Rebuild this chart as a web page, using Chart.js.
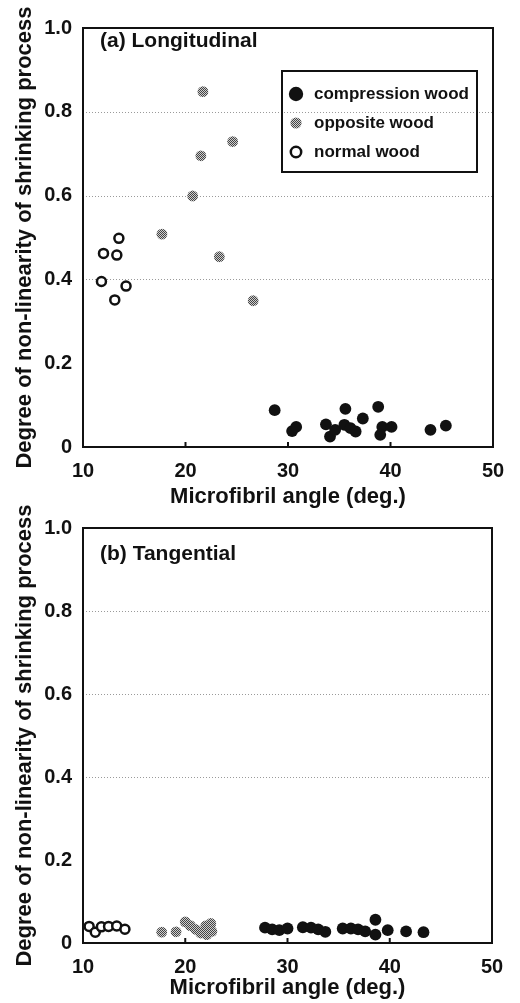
<!DOCTYPE html>
<html>
<head>
<meta charset="utf-8">
<script src="https://cdn.jsdelivr.net/npm/chart.js@4.4.1/dist/chart.umd.min.js"></script>
<style>
  html, body { margin: 0; padding: 0; background: #ffffff; }
  body { width: 520px; height: 1003px; position: relative; overflow: hidden; }
  .panel { position: absolute; left: 0; width: 520px; }
  #p1 { top: 0; height: 512px; }
  #p2 { top: 500px; height: 503px; }
</style>
</head>
<body>
<div class="panel" id="p1"><canvas id="c1" width="520" height="512"></canvas></div>
<div class="panel" id="p2"><canvas id="c2" width="520" height="503"></canvas></div>
<script>
// ---------------- data ----------------
const seriesLabels = ['compression wood', 'opposite wood', 'normal wood'];
const xTickValues = [10, 20, 30, 40, 50];
const xTickLabels = ['10', '20', '30', '40', '50'];
const yTickValues = [0, 0.2, 0.4, 0.6, 0.8, 1.0];
const yTickLabels = ['0', '0.2', '0.4', '0.6', '0.8', '1.0'];
const yGridValues = [0.4, 0.6, 0.8];
const xTickMarkValues = [20, 30, 40];
const xTitle = 'Microfibril angle (deg.)';
const yTitle = 'Degree of non-linearity of shrinking process';
const panelTitles = ['(a) Longitudinal', '(b) Tangential'];

// (a) Longitudinal
const longCompressionAngle  = [28.7, 30.4, 30.8, 33.7, 34.1, 34.6, 35.6, 35.5, 36.1, 36.6, 37.3, 38.8, 39.2, 39.0, 40.1, 43.9, 45.4];
const longCompressionDegree = [0.088, 0.038, 0.048, 0.054, 0.025, 0.041, 0.091, 0.053, 0.045, 0.037, 0.068, 0.096, 0.048, 0.029, 0.048, 0.041, 0.051];
const longOppositeAngle  = [21.7, 24.6, 21.5, 20.7, 17.7, 23.3, 26.6];
const longOppositeDegree = [0.848, 0.729, 0.695, 0.599, 0.508, 0.454, 0.349];
const longNormalAngle  = [12.0, 13.3, 13.5, 11.8, 13.1, 14.2];
const longNormalDegree = [0.462, 0.458, 0.498, 0.395, 0.351, 0.384];

// (b) Tangential
const tanCompressionAngle  = [27.8, 28.5, 29.2, 30.0, 31.5, 32.3, 33.0, 33.7, 35.4, 36.2, 36.9, 37.6, 38.6, 38.6, 39.8, 41.6, 43.3];
const tanCompressionDegree = [0.037, 0.033, 0.031, 0.035, 0.038, 0.037, 0.033, 0.027, 0.035, 0.035, 0.033, 0.028, 0.056, 0.020, 0.031, 0.028, 0.026];
const tanOppositeAngle  = [17.7, 19.1, 20.0, 20.5, 21.0, 21.5, 22.0, 22.5, 22.6, 22.1];
const tanOppositeDegree = [0.026, 0.027, 0.051, 0.042, 0.033, 0.024, 0.041, 0.047, 0.028, 0.020];
const tanNormalAngle  = [10.6, 11.2, 11.8, 12.5, 13.3, 14.1];
const tanNormalDegree = [0.040, 0.026, 0.039, 0.040, 0.041, 0.033];

// ---------------- styling ----------------
const FONT = '"Liberation Sans", Arial, Helvetica, sans-serif';
const INK = '#111111';

function makeStipple() {
  const c = document.createElement('canvas');
  c.width = 2; c.height = 2;
  const g = c.getContext('2d');
  g.fillStyle = '#cfcfcf';
  g.fillRect(0, 0, 2, 2);
  g.fillStyle = '#444444';
  g.fillRect(0, 0, 1, 1);
  g.fillRect(1, 1, 1, 1);
  return g.createPattern(c, 'repeat');
}
const stipple = makeStipple();

function pts(xs, ys) { return xs.map((x, i) => ({ x: x, y: ys[i] })); }

function datasets(cx, cy, ox, oy, nx, ny) {
  return [
    { label: seriesLabels[0], data: pts(cx, cy), pointRadius: 5.9, pointBackgroundColor: INK, pointBorderColor: INK, pointBorderWidth: 0, order: 1 },
    { label: seriesLabels[1], data: pts(ox, oy), pointRadius: 5.4, pointBackgroundColor: stipple, pointBorderColor: 'rgba(0,0,0,0)', pointBorderWidth: 0, order: 2 },
    { label: seriesLabels[2], data: pts(nx, ny), pointRadius: 4.5, pointBackgroundColor: '#ffffff', pointBorderColor: INK, pointBorderWidth: 2.5, order: 3 }
  ];
}

const framePlugin = {
  id: 'frame',
  beforeDatasetsDraw(chart) {
    const { ctx, chartArea: a, scales } = chart;
    const ys = scales.y;
    ctx.save();
    ctx.strokeStyle = '#9a9a9a';
    ctx.lineWidth = 1;
    ctx.setLineDash([1, 2]);
    yGridValues.forEach(v => {
      const py = Math.round(ys.getPixelForValue(v)) + 0.5;
      ctx.beginPath();
      ctx.moveTo(a.left, py);
      ctx.lineTo(a.right, py);
      ctx.stroke();
    });
    ctx.restore();
  },
  afterDatasetsDraw(chart, args, opts) {
    const { ctx, chartArea: a, scales } = chart;
    ctx.save();
    ctx.strokeStyle = INK;
    ctx.lineWidth = 2;
    ctx.strokeRect(a.left, a.top, a.right - a.left, a.bottom - a.top);
    // inward tick marks on the x axis
    xTickMarkValues.forEach(v => {
      const px = scales.x.getPixelForValue(v);
      ctx.beginPath();
      ctx.moveTo(px, a.bottom);
      ctx.lineTo(px, a.bottom - 5);
      ctx.stroke();
    });
    // panel title
    ctx.fillStyle = INK;
    ctx.font = 'bold 21px ' + FONT;
    ctx.textBaseline = 'middle';
    ctx.textAlign = 'left';
    ctx.fillText(opts.title, a.left + 17, a.top + opts.titleDy);
    // legend
    if (opts.legend) {
      const L = a.left + 199, T = a.top + 43, W = 195, H = 101;
      ctx.lineWidth = 2;
      ctx.strokeRect(L, T, W, H);
      ctx.font = 'bold 17px ' + FONT;
      const rows = [23, 52, 81];
      chart.data.datasets.forEach((ds, i) => {
        const cy = T + rows[i];
        const cx = L + 14;
        ctx.beginPath();
        if (i === 0) {
          ctx.arc(cx, cy, 7.2, 0, Math.PI * 2);
          ctx.fillStyle = INK; ctx.fill();
        } else if (i === 1) {
          ctx.arc(cx, cy, 5.6, 0, Math.PI * 2);
          ctx.fillStyle = stipple; ctx.fill();
        } else {
          ctx.arc(cx, cy, 5.2, 0, Math.PI * 2);
          ctx.fillStyle = '#ffffff'; ctx.fill();
          ctx.lineWidth = 2.5; ctx.strokeStyle = INK; ctx.stroke();
        }
        ctx.fillStyle = INK;
        ctx.fillText(ds.label, L + 32, cy);
      });
    }
    ctx.restore();
  }
};

function makeChart(id, dsets, cfg) {
  return new Chart(document.getElementById(id), {
    type: 'scatter',
    data: { datasets: dsets },
    plugins: [framePlugin],
    options: {
      responsive: false,
      animation: false,
      events: [],
      layout: { padding: { left: 0, right: cfg.padRight, top: cfg.padTop, bottom: 0 } },
      plugins: {
        legend: { display: false },
        tooltip: { enabled: false },
        frame: { title: cfg.title, titleDy: cfg.titleDy, legend: cfg.legend }
      },
      scales: {
        x: {
          type: 'linear', min: 10, max: 50,
          afterBuildTicks(s) { s.ticks = xTickValues.map(v => ({ value: v })); },
          afterFit(s) { s.height = cfg.xHeight; },
          ticks: {
            color: INK, padding: 12, maxRotation: 0, autoSkip: false,
            font: { family: FONT, size: 20, weight: 'bold' },
            callback: (v) => xTickLabels[xTickValues.indexOf(v)]
          },
          grid: { display: false, drawTicks: false },
          border: { display: false },
          title: {
            display: true, text: xTitle, color: INK,
            font: { family: FONT, size: 22, weight: 'bold' },
            padding: { top: 0, bottom: cfg.xTitlePad }
          }
        },
        y: {
          type: 'linear', min: 0, max: 1,
          afterBuildTicks(s) { s.ticks = yTickValues.map(v => ({ value: v })); },
          afterFit(s) { s.width = 83; },
          ticks: {
            color: INK, padding: 11,
            font: { family: FONT, size: 20, weight: 'bold' },
            callback: (v) => yTickLabels[yTickValues.indexOf(v)]
          },
          grid: { display: false, drawTicks: false },
          border: { display: false },
          title: {
            display: true, text: yTitle, color: INK,
            font: { family: FONT, size: 22, weight: 'bold' },
            padding: { top: 12, bottom: 0 }
          }
        }
      }
    }
  });
}

makeChart('c1',
  datasets(longCompressionAngle, longCompressionDegree, longOppositeAngle, longOppositeDegree, longNormalAngle, longNormalDegree),
  { padRight: 27, padTop: 28, xHeight: 65, xTitlePad: 2, title: panelTitles[0], titleDy: 13, legend: true });

makeChart('c2',
  datasets(tanCompressionAngle, tanCompressionDegree, tanOppositeAngle, tanOppositeDegree, tanNormalAngle, tanNormalDegree),
  { padRight: 28, padTop: 28, xHeight: 60, xTitlePad: 2, title: panelTitles[1], titleDy: 26, legend: false });
</script>
</body>
</html>
